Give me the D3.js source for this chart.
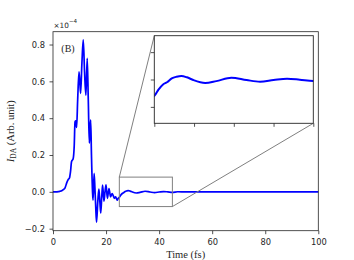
<!DOCTYPE html>
<html><head><meta charset="utf-8">
<script src="https://cdn.jsdelivr.net/npm/d3@7"></script>
<style>body{margin:0;background:#fff}svg{display:block}</style>
</head><body>
<svg id="c" width="354" height="260"></svg>
<script>
// ---- data (time in fs, signal in units of 1e-4) ----
const times = [0,1,2,2.6,3.3,3.9,4.5,5.2,5.8,6.2,6.6,7.0,7.6,8.0,8.3,8.6,8.9,9.3,9.8,10.1,10.4,10.9,11.4,11.9,12.4,12.9,13.3,13.7,14.0,14.2,14.5,14.9,15.1,15.5,15.8,16.1,16.4,16.9,17.3,17.7,18.0,18.4,18.7,19.2,19.6,20.0,20.5,21.1,21.7,22.3,22.7,23.1,23.6,24.2,24.6,25.1,25.5,26.1,26.6,27.2,27.8,28.4,29.1,29.9,31.4,32.8,34.7,36.6,38.3,40.0,41.7,43.3,45.0,47,50,55,60,70,80,90,100];
const signal = [0,0,0.001,0.003,0.006,0.012,0.02,0.05,0.068,0.075,0.11,0.165,0.18,0.25,0.38,0.385,0.35,0.5,0.652,0.6,0.535,0.7,0.825,0.65,0.525,0.725,0.5,0.265,0.35,0.39,0.2,0.0,-0.045,0.10,0.02,-0.08,-0.165,-0.05,0.015,-0.06,-0.115,-0.02,0.036,-0.05,0.0,0.038,-0.035,0.018,-0.027,-0.01,-0.02,-0.035,-0.027,-0.045,-0.035,-0.028,-0.019,-0.009,-0.005,0.002,0.005,0.0064,0.004,-0.001,-0.0064,-0.003,0.0033,-0.001,-0.004,-0.001,0.0015,-0.0003,-0.0027,0.0005,0,0,0,0,0,0,0];
const xTicks = [0,20,40,60,80,100];
const yTicks = [-0.2,0,0.2,0.4,0.6,0.8];
const yTickLabels = ["\u22120.2","0.0","0.2","0.4","0.6","0.8"];
const insetXRange = [25,45];
const insetYRange = [-0.08,0.08];
const insetXTicks = [25,30,35,40,45];
const insetYTicks = [-0.05,0,0.05];

const data = times.map((t,i)=>({t, v:signal[i]}));
const svg = d3.select("#c");
const L=53, R=318.3, T=31.7, B=230.7;
const x = d3.scaleLinear().domain([0,100]).range([L,R]);
const y = d3.scaleLinear().domain([-0.211,0.8696]).range([B,T]);
const txt = "#262626";

// main line
const line = d3.line().x(d=>x(d.t)).y(d=>y(d.v)).curve(d3.curveMonotoneX);
svg.append("path").datum(data).attr("d",line).attr("fill","none")
  .attr("stroke","#0000ff").attr("stroke-width",1.7).attr("stroke-linejoin","round");

// axes
const gx = svg.append("g").attr("transform",`translate(0,${B})`)
  .call(d3.axisBottom(x).tickValues(xTicks).tickSize(3.5).tickPadding(5).tickFormat(d3.format("d")));
const gy = svg.append("g").attr("transform",`translate(${L},0)`)
  .call(d3.axisLeft(y).tickValues(yTicks).tickSize(3.5).tickPadding(4.5).tickFormat((d,i)=>yTickLabels[i]));
[gx,gy].forEach(g=>{
  g.select(".domain").remove();
  g.selectAll("line").attr("stroke",txt).attr("stroke-width",0.8);
  g.selectAll("text").attr("font-family","DejaVu Sans").attr("font-size",8.3).attr("fill",txt);
});
svg.append("rect").attr("x",L).attr("y",T).attr("width",R-L).attr("height",B-T)
  .attr("fill","none").attr("stroke",txt).attr("stroke-width",0.8);

// offset text
const off = svg.append("text").attr("x",53.5).attr("y",27.5).attr("font-family","DejaVu Sans").attr("font-size",7.3).attr("fill",txt);
off.append("tspan").text("\u00d710");
off.append("tspan").attr("dy",-5).attr("font-size",5.6).text("\u22124");

// labels
svg.append("text").attr("x",61.3).attr("y",51.5).attr("font-family","Liberation Serif").attr("font-size",10).attr("fill",txt).text("(B)");
svg.append("text").attr("x",(L+R)/2).attr("y",257.5).attr("text-anchor","middle").attr("font-family","Liberation Serif").attr("font-size",10.5).attr("fill",txt).text("Time (fs)");
const yl = svg.append("text").attr("transform",`translate(14,${(T+B)/2}) rotate(-90)`).attr("text-anchor","middle")
  .attr("font-family","Liberation Serif").attr("font-size",10.5).attr("fill",txt);
yl.append("tspan").attr("font-style","italic").text("I");
yl.append("tspan").attr("dy",2).attr("font-size",7.5).text("DA");
yl.append("tspan").attr("dy",-2).text(" (Arb. unit)");

// inset geometry
const iL=154.3, iR=313.3, iT=35.7, iB=123.3;
const xi = d3.scaleLinear().domain(insetXRange).range([iL,iR]);
const yi = d3.scaleLinear().domain(insetYRange).range([iB,iT]);

// zoom box + connectors
const gray = "#808080";
svg.append("rect").attr("x",x(insetXRange[0])).attr("y",y(insetYRange[1]))
  .attr("width",x(insetXRange[1])-x(insetXRange[0])).attr("height",y(insetYRange[0])-y(insetYRange[1]))
  .attr("fill","none").attr("stroke",gray).attr("stroke-width",1);
svg.append("line").attr("x1",x(insetXRange[0])).attr("y1",y(insetYRange[1])).attr("x2",iL).attr("y2",iT).attr("stroke",gray).attr("stroke-width",1);
svg.append("line").attr("x1",x(insetXRange[1])).attr("y1",y(insetYRange[0])).attr("x2",iR).attr("y2",iB).attr("stroke",gray).attr("stroke-width",1);

// inset
svg.append("rect").attr("x",iL).attr("y",iT).attr("width",iR-iL).attr("height",iB-iT).attr("fill","#fff");
svg.append("clipPath").attr("id","ic").append("rect").attr("x",iL).attr("y",iT).attr("width",iR-iL).attr("height",iB-iT);
const iline = d3.line().x(d=>xi(d.t)).y(d=>yi(d.v)).curve(d3.curveMonotoneX);
svg.append("path").datum(data.filter(d=>d.t>=20&&d.t<=50)).attr("d",iline).attr("clip-path","url(#ic)")
  .attr("fill","none").attr("stroke","#0000ff").attr("stroke-width",2);
const gix = svg.append("g").attr("transform",`translate(0,${iB})`)
  .call(d3.axisBottom(xi).tickValues(insetXTicks).tickSize(3.5).tickFormat(""));
const giy = svg.append("g").attr("transform",`translate(${iL},0)`)
  .call(d3.axisLeft(yi).tickValues(insetYTicks).tickSize(3.5).tickFormat(""));
[gix,giy].forEach(g=>{ g.select(".domain").remove(); g.selectAll("line").attr("stroke",txt).attr("stroke-width",0.8); });
svg.append("rect").attr("x",iL).attr("y",iT).attr("width",iR-iL).attr("height",iB-iT)
  .attr("fill","none").attr("stroke",txt).attr("stroke-width",0.9);
</script>
</body></html>
